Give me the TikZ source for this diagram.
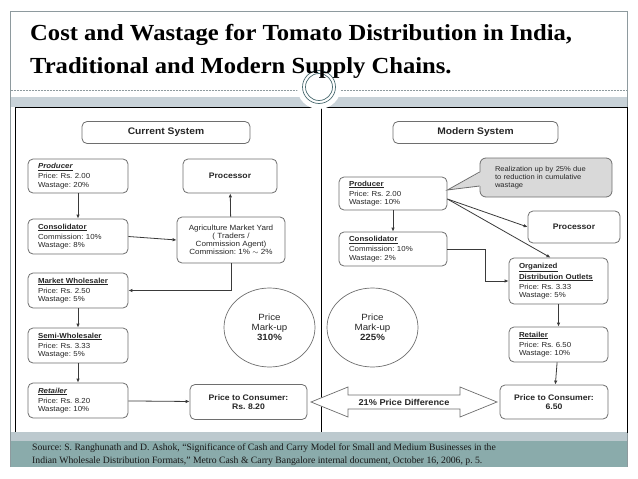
\documentclass[tikz,border=0pt]{standalone}
\usepackage{fontspec}
\setmainfont{Liberation Serif}
\newfontfamily\boxfont[FakeStretch=1.08]{Liberation Sans}
\newfontfamily\titlefont[FakeStretch=1.07]{Liberation Serif}
\usetikzlibrary{arrows.meta,shapes.geometric}
\definecolor{boxgrey}{HTML}{6E6E6E}
\definecolor{linegrey}{HTML}{3A3A3A}
\definecolor{notegrey}{HTML}{D9D9D9}
\definecolor{framegrey}{HTML}{8E9A9E}
\definecolor{bandgrey}{HTML}{C8D2D8}
\definecolor{srclight}{HTML}{BCC9CE}
\definecolor{srcteal}{HTML}{8AABAB}
\definecolor{ringteal}{HTML}{4A6B70}
\newcommand{\stagehead}[1]{\textbf{\underline{#1}}}
\newcommand{\stageheadit}[1]{\textbf{\textit{\underline{#1}}}}
\frenchspacing
\tikzset{
  stage/.style={draw=boxgrey, line width=0.8pt, rounded corners=5pt, fill=white,
    inner xsep=10pt, inner ysep=0pt, align=left, text=black!85,
    font=\boxfont\fontsize{7.3}{8.5}\selectfont},
  tag/.style={stage, align=center, inner xsep=0pt,
    font=\boxfont\bfseries\fontsize{8}{9.5}\selectfont},
  markup/.style={draw=boxgrey, line width=0.7pt, ellipse, minimum width=91pt,
    minimum height=79pt, inner sep=0pt, align=center, text=black!85,
    font=\boxfont\fontsize{9}{10}\selectfont},
  link/.style={-{Latex[length=4pt,width=3.5pt]}, draw=linegrey, line width=0.8pt},
}
\begin{document}
\begin{tikzpicture}[x=1pt,y=-1pt]
\useasboundingbox (0,0) rectangle (638,479);
% slide frame and header
\draw[framegrey, line width=0.6pt] (10.5,467) -- (10.5,11) -- (627,11) -- (627,467);
\draw[framegrey, dashed, dash pattern=on 2pt off 1pt, line width=0.5pt] (10.5,90) -- (627,90);
\fill[bandgrey] (10.5,97) rectangle (627,107);
\draw[black, line width=0.6pt] (15,107) rectangle (627,432);
\draw[black, line width=0.6pt] (321.5,107) -- (321.5,432);
\fill[white] (319,87) circle (22pt);
\draw[ringteal, line width=0.7pt] (319,87) circle (16.5pt);
\draw[ringteal, line width=0.7pt] (319,87) circle (13.5pt);
\node[anchor=base west, inner sep=0pt, font=\titlefont\bfseries\fontsize{23}{33}\selectfont] (titleA) at (30,40) {Cost and Wastage for Tomato Distribution in India,};
\node[anchor=base west, inner sep=0pt, font=\titlefont\bfseries\fontsize{23}{33}\selectfont] (titleB) at (30,73) {Traditional and Modern Supply Chains.};
% current system
\node[tag, minimum width=168pt, minimum height=22pt, font=\boxfont\bfseries\fontsize{9.5}{11}\selectfont] (cur) at (166,132.5) {Current System};
\node[stage, text width=80pt, minimum height=34pt] (lprod) at (78,176) {\stageheadit{Producer}\\[1.5pt]Price: Rs. 2.00\\Wastage: 20\%};
\node[tag, minimum width=94pt, minimum height=34pt] (lproc) at (230,176) {Processor};
\node[stage, text width=80pt, minimum height=35pt] (lcons) at (78,236.5) {\stagehead{Consolidator}\\[1.5pt]Commission: 10\%\\Wastage: 8\%};
\node[stage, align=center, minimum width=108pt, minimum height=46pt, font=\boxfont\fontsize{7.5}{8.2}\selectfont] (amy) at (231,240) {Agriculture Market Yard\\( Traders /\\Commission Agent)\\Commission: 1\% $\sim$ 2\%};
\node[stage, text width=80pt, minimum height=35pt] (lwhole) at (78,290.5) {\stagehead{Market Wholesaler}\\[1.5pt]Price: Rs. 2.50\\Wastage: 5\%};
\node[stage, text width=80pt, minimum height=35pt] (lsemi) at (78,345.5) {\stagehead{Semi-Wholesaler}\\[1.5pt]Price: Rs. 3.33\\Wastage: 5\%};
\node[stage, text width=80pt, minimum height=35pt] (lret) at (78,400.5) {\stageheadit{Retailer}\\[1.5pt]Price: Rs. 8.20\\Wastage: 10\%};
\node[tag, minimum width=117pt, minimum height=35pt] (lptc) at (248.5,402) {Price to Consumer:\\Rs. 8.20};
\node[markup] (lmark) at (269.5,327.5) {Price\\Mark-up\\\textbf{310\%}};
\draw[link] (lprod) -- (lcons);
\draw[link] (lcons.east) -- (amy.west);
\draw[link] (amy) -- (lproc);
\draw[link] (amy.south) |- (lwhole.east);
\draw[link] (lwhole) -- (lsemi);
\draw[link] (lsemi) -- (lret);
\draw[link] (lret) -- (lptc);
% modern system
\node[tag, minimum width=165pt, minimum height=22pt, font=\boxfont\bfseries\fontsize{9.5}{11}\selectfont] (mod) at (475.5,132.5) {Modern System};
\node[stage, fill=notegrey, rounded corners=6pt, text width=102pt, inner xsep=15pt, minimum height=39pt, font=\boxfont\fontsize{7}{8}\selectfont] (note) at (546,177.5) {Realization up by 25\% due\\to reduction in cumulative\\wastage};
\node[stage, text width=88pt, minimum height=33pt] (rprod) at (393,193.5) {\stagehead{Producer}\\[1.5pt]Price: Rs. 2.00\\Wastage: 10\%};
\coordinate (tip) at ([yshift=3.5pt]rprod.east);
\fill[notegrey] ([xshift=1.5pt,yshift=5.5pt]note.west) -- (tip) -- ([xshift=1.5pt,yshift=-8.5pt]note.west) -- cycle;
\draw[boxgrey, line width=0.8pt] ([yshift=5.5pt]note.west) -- (tip) -- ([yshift=-8.5pt]note.west);
\node[tag, minimum width=92pt, minimum height=32pt] (rproc) at (574,227) {Processor};
\node[stage, text width=88pt, minimum height=34pt] (rcons) at (393,249) {\stagehead{Consolidator}\\[1.5pt]Commission: 10\%\\Wastage: 2\%};
\node[stage, text width=79pt, minimum height=46pt] (odo) at (558.5,281) {\stagehead{Organized}\\[1pt]\stagehead{Distribution Outlets}\\[1.5pt]Price: Rs. 3.33\\Wastage: 5\%};
\node[stage, text width=79pt, minimum height=35pt] (rret) at (558.5,344.5) {\stagehead{Retailer}\\[1.5pt]Price: Rs. 6.50\\Wastage: 10\%};
\node[tag, minimum width=108pt, minimum height=34pt] (rptc) at (554,402) {Price to Consumer:\\6.50};
\node[markup] (rmark) at (372.5,327.5) {Price\\Mark-up\\\textbf{225\%}};
\draw[link] (rprod) -- (rcons);
\draw[link] ([yshift=-5.5pt]rprod.east) -- (rproc.west);
\draw[link] ([yshift=-5.5pt]rprod.east) -- ([xshift=-8pt]odo.north);
\draw[link] (rcons.east) -- ++(38,0) |- (odo.west);
\draw[link] (odo) -- (rret);
\draw[link] (rret) -- (rptc);
% price difference
\coordinate (pd) at (404,402);
\draw[boxgrey, fill=white, line width=0.7pt, shift={(pd)}] (-93,0) -- (-56,-15) -- (-56,-7) -- (56,-7) -- (56,-15) -- (93,0) -- (56,15) -- (56,7) -- (-56,7) -- (-56,15) -- cycle;
\node[inner sep=0pt, text=black!85, font=\boxfont\bfseries\fontsize{8.5}{10}\selectfont] (pdiff) at (pd) {21\% Price Difference};
% source band
\fill[srclight] (10.5,432) rectangle (627,441);
\fill[srcteal] (10.5,441) rectangle (627,467);
\node[anchor=base west, inner sep=0pt, text=black!90, font=\fontsize{9.7}{13}\selectfont] (srcA) at (32,450) {Source: S. Ranghunath and D. Ashok, “Significance of Cash and Carry Model for Small and Medium Businesses in the};
\node[anchor=base west, inner sep=0pt, text=black!90, font=\fontsize{9.7}{13}\selectfont] (srcB) at (32,463.5) {Indian Wholesale Distribution Formats,” Metro Cash \& Carry Bangalore internal document, October 16, 2006, p. 5.};
\end{tikzpicture}
\end{document}
